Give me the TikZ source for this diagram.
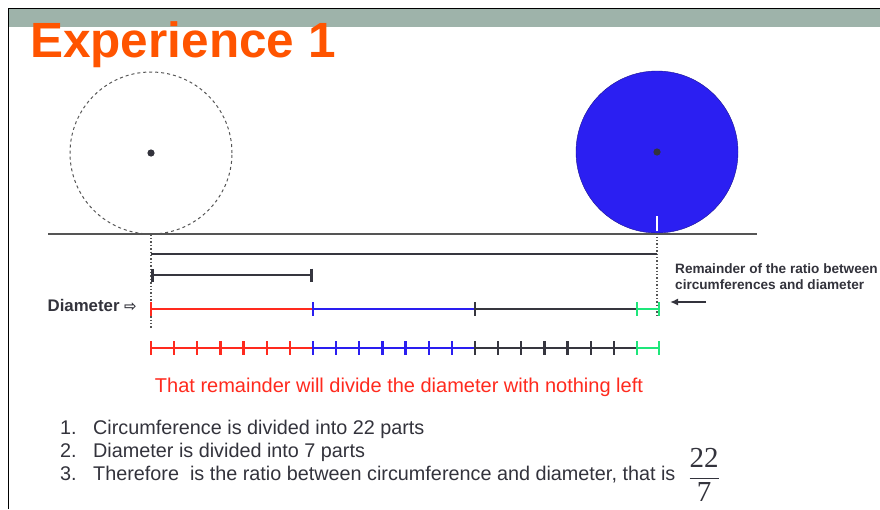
\documentclass[tikz,border=0pt]{standalone}
\usepackage{fontspec}
\setmainfont{Liberation Sans}
\newfontfamily\fracfont{Liberation Serif}
\newfontfamily\symfont{DejaVu Sans}
\usetikzlibrary{arrows.meta,positioning}
\definecolor{title}{HTML}{FF5400}
\definecolor{band}{HTML}{9EB3AA}
\definecolor{ink}{HTML}{33333C}
\definecolor{dashgray}{HTML}{555555}
\definecolor{wheel}{HTML}{2B1FF2}
\definecolor{segred}{HTML}{FF2A1E}
\definecolor{segblue}{HTML}{2A1EF0}
\definecolor{segdark}{HTML}{36363F}
\definecolor{seggreen}{HTML}{1EE67A}

\begin{document}
\begin{tikzpicture}[x=1pt,y=-1pt,every node/.style={inner sep=0pt},
  seg/.style={line width=2.6pt},notch/.style={line width=2.2pt},
  item/.style={anchor=base west,font=\fontsize{19.8}{23}\selectfont,text=ink}]
\useasboundingbox (0,0) rectangle (880,509);
\fill[white] (0,0) rectangle (880,509);
\fill[band] (9,9) rectangle (880,27);
\draw[line width=1.8pt] (8.5,509) -- (8.5,8.5) -- (880,8.5);
\node[anchor=base west,text=title,font=\bfseries\fontsize{49.5}{50}\selectfont] (title) at (30,57) {Experience 1};
% the two wheels
\node[circle,draw=dashgray,dashed,line width=1pt,minimum size=162pt] (wheelA) at (151,153) {};
\node[circle,fill=wheel,draw=wheel!60!black,minimum size=162pt] (wheelB) at (657,152) {};
\fill[ink] (wheelA.center) circle (3.6pt) (wheelB.center) circle (3.6pt);
\draw[white,line width=2pt] (wheelB.south) ++(0,-2) -- ++(0,-15);
\draw[dashgray,line width=1.8pt] (48,234) -- (757,234);
\draw[dashgray,dotted,line width=1.4pt] (wheelA.south) -- ++(0,95);
\draw[dashgray,dotted,line width=1.4pt] (wheelB.south) -- ++(0,84);
% circumference and diameter
\draw[seg,segdark] (151,254) -- (657,254);
\draw[seg,segdark,{Bar[width=13pt]}-{Bar[width=13pt]}] (151,275) -- (313,275);
\foreach \c/\xa in {segred/151,segblue/313,segdark/475}{
  \draw[seg,\c] (\xa,309) -- ++(162,0);
  \draw[notch,\c] (\xa,302) -- ++(0,14);
  \draw[seg,\c] (\xa,348) -- ++(162,0);
  \foreach \k in {0,...,7} \draw[notch,\c] (\xa+\k*23.14,341) -- ++(0,14);
}
\foreach \yy in {309,348}{
  \draw[seg,seggreen] (637,\yy) -- (659,\yy);
  \draw[notch,seggreen] (637,\yy-7) -- ++(0,14) (659,\yy-7) -- ++(0,14);
}
\node[anchor=base east,font=\bfseries\fontsize{16.8}{18}\selectfont,text=ink] (diam) at (137,311) {Diameter {\symfont\fontsize{15}{15}\selectfont ⇨}};
\node[anchor=north west,align=left,font=\bfseries\fontsize{13.6}{16}\selectfont,text=ink] (remainder) at (675,263) {Remainder of the ratio between\\circumferences and diameter};
\coordinate (tail) at (706,302);
\draw[-{Latex[length=8pt,width=7pt]},ink,line width=1.8pt] (tail) -- ++(-36,0);
\node[anchor=base,text=segred,font=\fontsize{20}{20}\selectfont] (remark) at (399,392) {That remainder will divide the diameter with nothing left};
% the list
\node[item] (item1) at (60,434) {\makebox[33pt][l]{1.}Circumference is divided into 22 parts};
\node[item] (item2) at (60,457.5) {\makebox[33pt][l]{2.}Diameter is divided into 7 parts};
\node[item] (item3) at (60,480.5) {\makebox[33pt][l]{3.}Therefore\ \ is the ratio between circumference and diameter, that is};
\node[font=\fracfont\fontsize{29}{29}\selectfont,text=ink] (ratio) at (704,475) {$\displaystyle\frac{\hbox{22}}{\hbox{7}}$};
\end{tikzpicture}
\end{document}
